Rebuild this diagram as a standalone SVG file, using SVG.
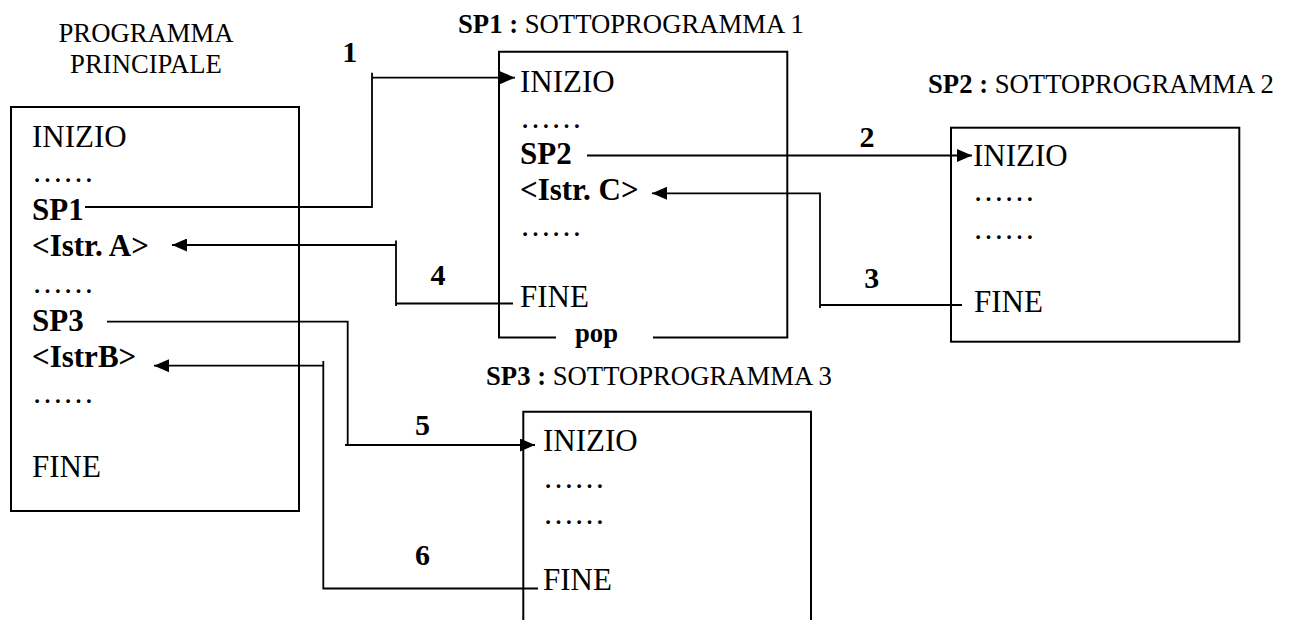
<svg xmlns="http://www.w3.org/2000/svg" width="1293" height="620" viewBox="0 0 1293 620">
<style>
text{fill:#000}
.t{font-size:31px}
.b{font-weight:bold}
.h{font-size:26.7px}
.lbl{font-size:30px;font-weight:bold;text-anchor:middle}
.box{fill:none;stroke:#000;stroke-width:2}
.con{fill:none;stroke:#000;stroke-width:1.8}
</style>
<defs>
<marker id="ah" markerUnits="userSpaceOnUse" markerWidth="15" markerHeight="13" refX="15" refY="6.5" orient="auto">
<path d="M0,0 L15,6.5 L0,13 z" fill="#000"/>
</marker>
</defs>
<rect width="1293" height="620" fill="#fff"/>
<g font-family="'Liberation Serif', 'DejaVu Serif', serif">
<g id="main">
<text class="h" x="146" y="41.7" text-anchor="middle">PROGRAMMA</text>
<text class="h" x="146" y="73" text-anchor="middle">PRINCIPALE</text>
<rect class="box" x="11" y="107" width="288" height="404"/>
<text class="t" x="32" y="147">INIZIO</text>
<text class="t" x="32" y="182">……</text>
<text class="t b" x="32" y="220">SP1</text>
<text class="t b" x="32" y="256">&lt;Istr. A&gt;</text>
<text class="t" x="32" y="293">……</text>
<text class="t b" x="32" y="331">SP3</text>
<text class="t b" x="32" y="367">&lt;IstrB&gt;</text>
<text class="t" x="32" y="403">……</text>
<text class="t" x="32" y="477">FINE</text>
</g>

<g id="sp1">
<text class="h" x="458" y="33"><tspan class="b">SP1 :</tspan> SOTTOPROGRAMMA 1</text>
<path class="box" d="M556,337.5 H499 V51.7 H787.3 V337.5 H653"/>
<text class="h b" x="596.5" y="342" text-anchor="middle">pop</text>
<text class="t" x="520" y="92">INIZIO</text>
<text class="t" x="520" y="128">……</text>
<text class="t b" x="520" y="164">SP2</text>
<text class="t b" x="520" y="200">&lt;Istr. C&gt;</text>
<text class="t" x="520" y="236">……</text>
<text class="t" x="520" y="307">FINE</text>
</g>

<g id="sp2">
<text class="h" x="928" y="93"><tspan class="b">SP2 :</tspan> SOTTOPROGRAMMA 2</text>
<rect class="box" x="951" y="127.7" width="288.3" height="214"/>
<text class="t" x="973" y="166">INIZIO</text>
<text class="t" x="973" y="201">……</text>
<text class="t" x="973" y="239">……</text>
<text class="t" x="974" y="312">FINE</text>
</g>

<g id="sp3">
<text class="h" x="486" y="385"><tspan class="b">SP3 :</tspan> SOTTOPROGRAMMA 3</text>
<path class="box" d="M523.3,621 V411.7 H811 V621"/>
<text class="t" x="543" y="451">INIZIO</text>
<text class="t" x="543" y="488">……</text>
<text class="t" x="543" y="524">……</text>
<text class="t" x="543" y="590">FINE</text>
</g>

<g id="connectors">
<path class="con" d="M85,207 H372 V72.7 M372,77.7 H515" marker-end="url(#ah)"/>
<path class="con" d="M587,155.5 H972" marker-end="url(#ah)"/>
<path class="con" d="M962,305 H820 M820,308 V193.3 H652" marker-end="url(#ah)"/>
<path class="con" d="M513,303.5 H396 M396,306 V240.5 M396,245 H172" marker-end="url(#ah)"/>
<path class="con" d="M107,321.7 H347.7 V445 M345,445 H535" marker-end="url(#ah)"/>
<path class="con" d="M538,588.5 H323.3 V361 M323.3,365.7 H154" marker-end="url(#ah)"/>
</g>

<g id="labels">
<text class="lbl" x="349.7" y="62">1</text>
<text class="lbl" x="867" y="146.7">2</text>
<text class="lbl" x="871.7" y="288.3">3</text>
<text class="lbl" x="438" y="285">4</text>
<text class="lbl" x="422.5" y="435">5</text>
<text class="lbl" x="422.5" y="565">6</text>
</g>
</g>
</svg>
